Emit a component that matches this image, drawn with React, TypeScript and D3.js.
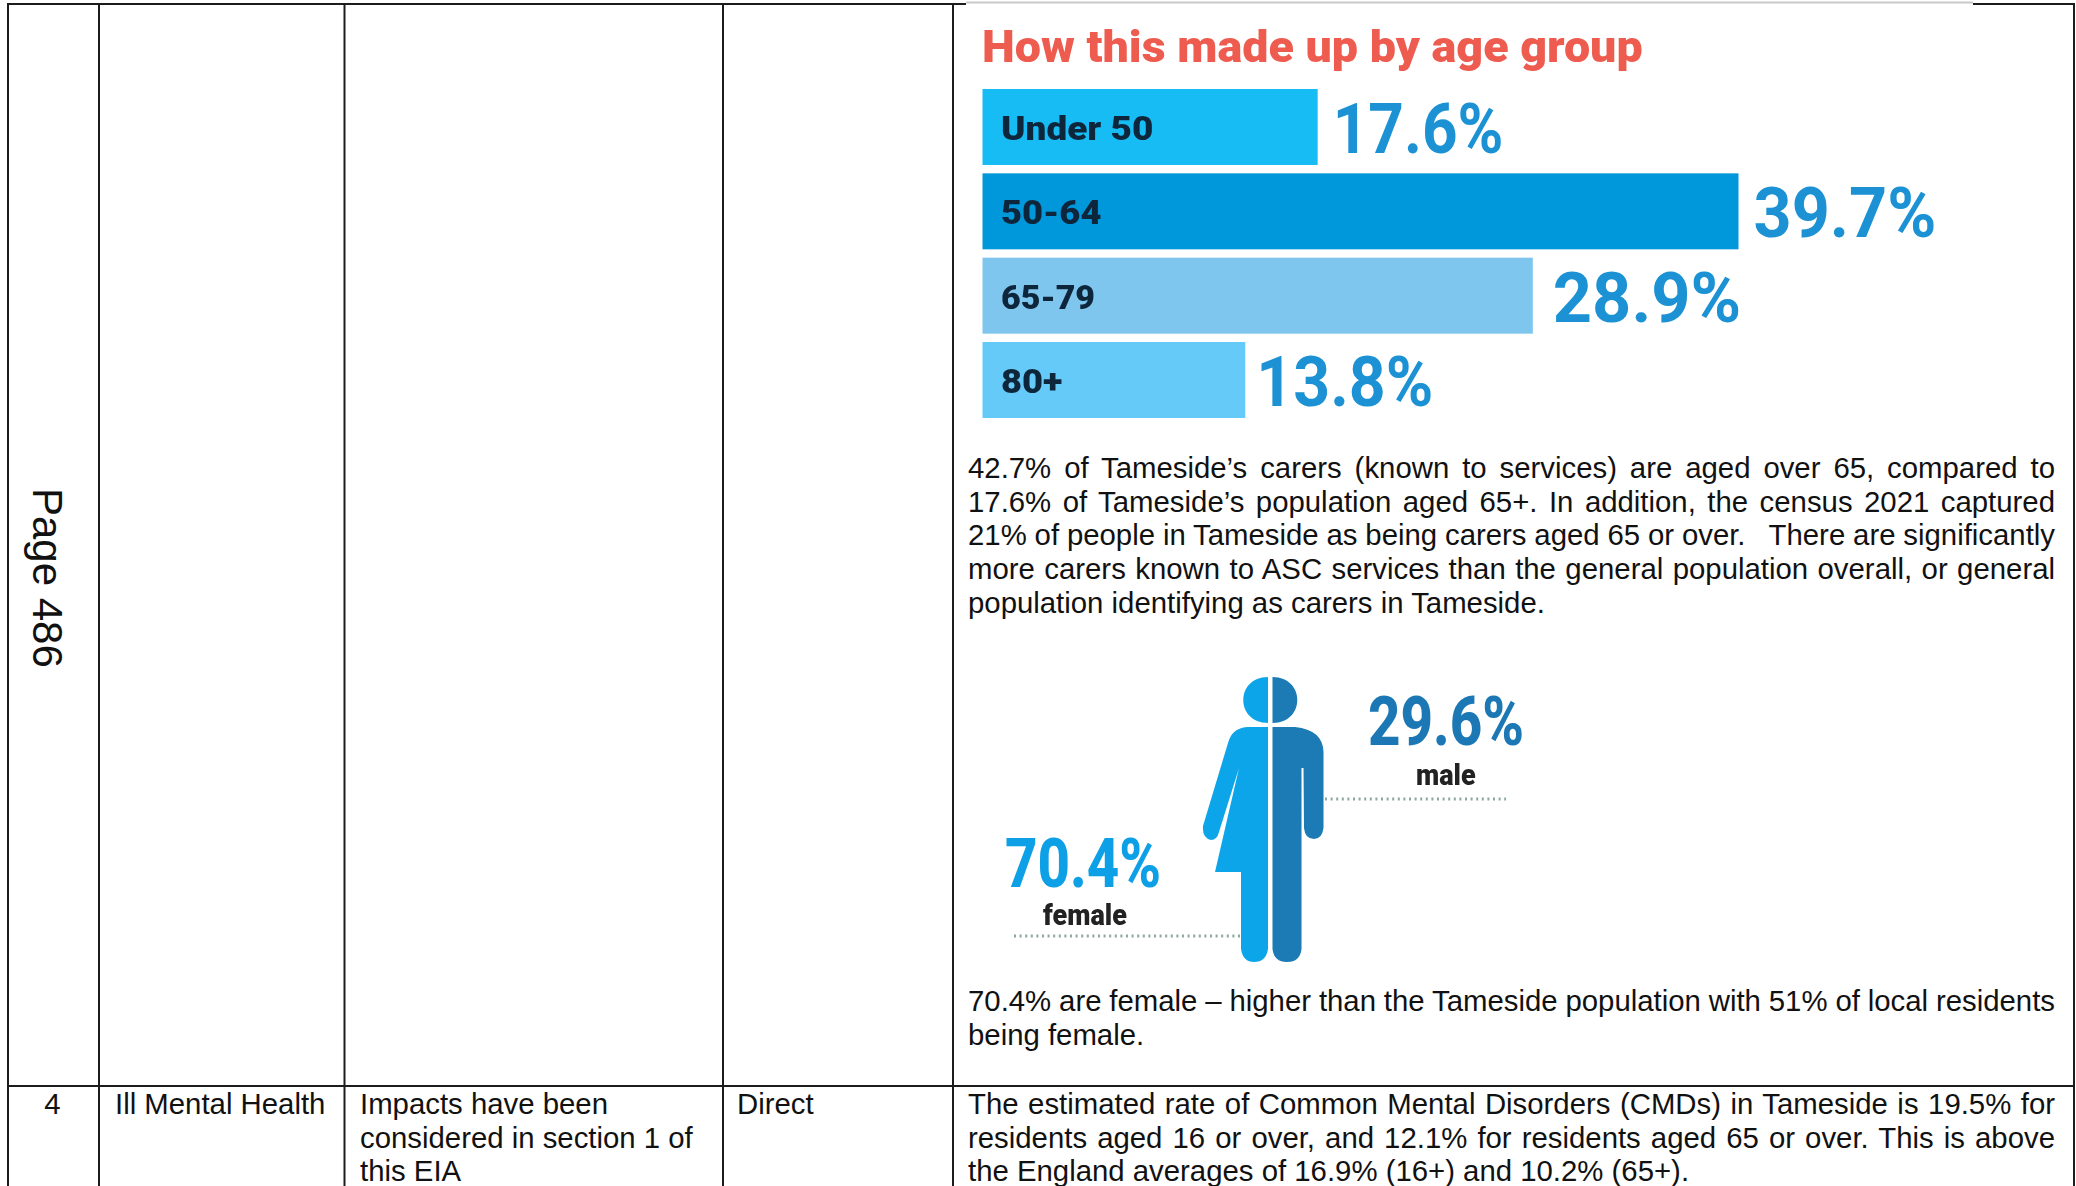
import React, { useEffect, useRef } from "react";
import * as d3 from "d3";

// Age profile of carers known to services
const ageGroups = ["Under 50", "50-64", "65-79", "80+"];
const ageShares = [17.6, 39.7, 28.9, 13.8];
const ageFills = ["#15bcf3", "#0398db", "#7fc6ee", "#66caf8"];

// Gender split
const genderLabels = ["female", "male"];
const genderShares = [70.4, 29.6];

// Document table text
const tableRowNumber = "4";
const tableCharacteristic = "Ill Mental Health";
const tableImpactLines = ["Impacts have been", "considered in section 1 of", "this EIA"];
const tableKind = "Direct";
const ageParagraph = [
  "42.7% of Tameside’s carers (known to services) are aged over 65, compared to",
  "17.6% of Tameside’s population aged 65+. In addition, the census 2021 captured",
  "21% of people in Tameside as being carers aged 65 or over.   There are significantly",
  "more carers known to ASC services than the general population overall, or general",
];
const ageParagraphEnd = "population identifying as carers in Tameside.";
const genderParagraph = "70.4% are female – higher than the Tameside population with 51% of local residents";
const genderParagraphEnd = "being female.";
const mentalHealthParagraph = [
  "The estimated rate of Common Mental Disorders (CMDs) in Tameside is 19.5% for",
  "residents aged 16 or over, and 12.1% for residents aged 65 or over. This is above",
  "the England averages of 16.9% (16+) and 10.2% (65+).",
];

const W = 2076;
const H = 1186;
const columnRules = [8, 99, 344.5, 723, 953, 2074];
const rowRule = 1086;
const TEXT_LEFT = 968;
const TEXT_RIGHT = 2055;
const bodyFont = "'Liberation Sans', Arial, sans-serif";
const infoFont = "Roboto, sans-serif";
const ink = "#111";

const barX = d3.scaleLinear().domain([0, 39.7]).range([982.5, 982.5 + 756]);
const barY = d3.scaleBand<string>().domain(ageGroups).range([89, 418]).paddingInner(0.099);

// Horizontal fitting of the display face, per bar
const valueGaps = [15, 15, 20, 11];
const valueStretch = [0.887, 0.95, 0.978, 0.92];
const labelStretch = [1.12, 1.1, 1.03, 1.1];

// Pictogram halves, drawn around the centre axis
function femaleHalf(): string {
  const p = d3.path();
  p.moveTo(1268, 727);
  p.lineTo(1247, 727);
  p.quadraticCurveTo(1232, 728, 1228, 743);
  p.lineTo(1203, 826);
  p.quadraticCurveTo(1202, 838, 1211, 840);
  p.quadraticCurveTo(1217, 840, 1219, 832);
  p.lineTo(1239, 768);
  p.lineTo(1215, 872);
  p.lineTo(1241, 872);
  p.lineTo(1241, 949);
  p.quadraticCurveTo(1243, 962, 1254, 962);
  p.quadraticCurveTo(1266, 962, 1268, 949);
  p.closePath();
  return p.toString();
}

function maleHalf(): string {
  const p = d3.path();
  p.moveTo(1272.5, 727);
  p.lineTo(1295, 727);
  p.quadraticCurveTo(1323, 730, 1323.5, 752);
  p.lineTo(1323.5, 828);
  p.quadraticCurveTo(1322, 839, 1314, 839);
  p.quadraticCurveTo(1305, 839, 1304, 828);
  p.lineTo(1303.5, 768);
  p.lineTo(1301.5, 768);
  p.lineTo(1301.5, 949);
  p.quadraticCurveTo(1300, 962, 1287, 962);
  p.quadraticCurveTo(1274, 962, 1272.5, 949);
  p.closePath();
  return p.toString();
}

function headHalf(side: -1 | 1): string {
  const p = d3.path();
  const cx = side < 0 ? 1268 : 1272.5;
  p.moveTo(cx, 677);
  p.bezierCurveTo(cx + side * 33, 677, cx + side * 33, 723, cx, 723);
  p.closePath();
  return p.toString();
}

function Squeezed(props: {
  x: number; y: number; sx: number; size: number; weight: number; fill: string; children: string;
}) {
  const { x, y, sx, size, weight, fill, children } = props;
  return (
    <text
      transform={`translate(${x},${y}) scale(${sx},1)`}
      fontFamily={infoFont}
      fontSize={size}
      fontWeight={weight}
      fill={fill}
    >
      {children}
    </text>
  );
}

function BodyLine(props: { x?: number; y: number; justify?: boolean; children: string }) {
  return (
    <text
      className={props.justify ? "justified" : undefined}
      x={props.x ?? TEXT_LEFT}
      y={props.y}
      fontFamily={bodyFont}
      fontSize={29.35}
      fill={ink}
      xmlSpace="preserve"
    >
      {props.children}
    </text>
  );
}

export default function App() {
  const svgRef = useRef<SVGSVGElement>(null);

  // Stretch the word gaps so justified lines reach the right margin
  useEffect(() => {
    d3.select(svgRef.current)
      .selectAll<SVGTextElement, unknown>("text.justified")
      .each(function () {
        const s = this.textContent ?? "";
        const gaps = (s.match(/ /g) ?? []).length;
        const width = this.getComputedTextLength();
        d3.select(this).attr("word-spacing", (TEXT_RIGHT - TEXT_LEFT - width) / gaps);
      });
  }, []);

  return (
    <svg
      ref={svgRef}
      width={W}
      height={H}
      viewBox={`0 0 ${W} ${H}`}
      style={{ position: "absolute", left: 0, top: 0, background: "#fff" }}
    >
      <defs>
        <filter id="soft" x="-5%" y="-5%" width="110%" height="110%">
          <feGaussianBlur stdDeviation={0.6} />
        </filter>
      </defs>

      {/* Table rules */}
      <g stroke="#1c1c1c" strokeWidth={2}>
        <line x1={8} x2={2075} y1={4} y2={4} />
        <line x1={8} x2={2075} y1={rowRule} y2={rowRule} />
        {columnRules.map((x) => (
          <line key={x} x1={x} x2={x} y1={3} y2={H} />
        ))}
      </g>
      <rect x={966} y={0} width={1007} height={8} fill="#fff" />
      <line x1={966} x2={1973} y1={2.5} y2={2.5} stroke="#c9c9c9" strokeWidth={2} />

      {/* Page number in the margin column */}
      <text
        transform="translate(33,488) rotate(90)"
        fontFamily={bodyFont}
        fontSize={42}
        fill={ink}
      >
        Page 486
      </text>

      {/* Age group bars */}
      <g filter="url(#soft)">
        <Squeezed x={982} y={62} sx={1.037} size={45} weight={900} fill="#ee5b50">
          How this made up by age group
        </Squeezed>
        {ageGroups.map((g, i) => {
          const y = barY(g) as number;
          const h = barY.bandwidth();
          return (
            <g key={g}>
              <rect x={barX(0)} y={y} width={barX(ageShares[i]) - barX(0)} height={h} fill={ageFills[i]} />
              <Squeezed x={1001} y={y + 51} sx={labelStretch[i]} size={33} weight={900} fill="#10253a">
                {g}
              </Squeezed>
              <Squeezed
                x={barX(ageShares[i]) + valueGaps[i]}
                y={y + 64}
                sx={valueStretch[i]}
                size={70}
                weight={700}
                fill="#1a92d5"
              >
                {`${ageShares[i]}%`}
              </Squeezed>
            </g>
          );
        })}
      </g>

      {/* Body text around the graphics */}
      {ageParagraph.map((t, i) => (
        <BodyLine key={i} y={478 + i * 33.6} justify>
          {t}
        </BodyLine>
      ))}
      <BodyLine y={612.5}>{ageParagraphEnd}</BodyLine>

      {/* Gender pictogram */}
      <g filter="url(#soft)">
        <path d={headHalf(-1)} fill="#0ba5e9" />
        <path d={femaleHalf()} fill="#0ba5e9" />
        <path d={headHalf(1)} fill="#1b7ab5" />
        <path d={maleHalf()} fill="#1b7ab5" />
        <g stroke="#8ea99b" strokeWidth={3} strokeDasharray="2 3.6" fill="none">
          <line x1={1014} x2={1241} y1={936} y2={936} />
          <line x1={1325} x2={1506} y1={799} y2={799} />
        </g>
        <Squeezed x={1005} y={887} sx={0.83} size={68} weight={800} fill="#0ba0e6">
          {`${genderShares[0]}%`}
        </Squeezed>
        <Squeezed x={1043} y={925} sx={0.93} size={29} weight={900} fill="#222">
          {genderLabels[0]}
        </Squeezed>
        <Squeezed x={1368} y={745} sx={0.83} size={68} weight={800} fill="#1e78b4">
          {`${genderShares[1]}%`}
        </Squeezed>
        <Squeezed x={1416} y={785} sx={0.93} size={29} weight={900} fill="#222">
          {genderLabels[1]}
        </Squeezed>
      </g>

      <BodyLine y={1011} justify>
        {genderParagraph}
      </BodyLine>
      <BodyLine y={1045}>{genderParagraphEnd}</BodyLine>

      {/* Table row 4 */}
      <text x={52.5} y={1114} textAnchor="middle" fontFamily={bodyFont} fontSize={29.35} fill={ink}>
        {tableRowNumber}
      </text>
      <BodyLine x={115} y={1114}>{tableCharacteristic}</BodyLine>
      {tableImpactLines.map((t, i) => (
        <BodyLine key={t} x={360} y={1114 + i * 33.6}>
          {t}
        </BodyLine>
      ))}
      <BodyLine x={737} y={1114}>{tableKind}</BodyLine>
      {mentalHealthParagraph.map((t, i) => (
        <BodyLine key={i} y={1114 + i * 33.6} justify={i < 2}>
          {t}
        </BodyLine>
      ))}
    </svg>
  );
}
